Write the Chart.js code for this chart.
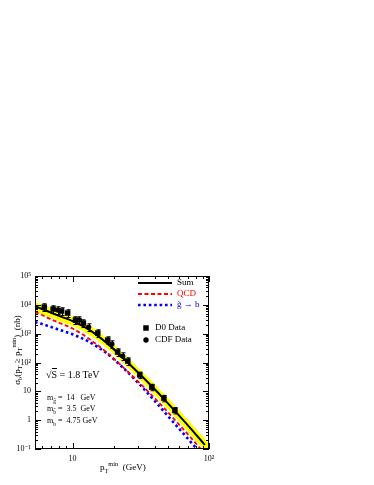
<!DOCTYPE html>
<html>
<head>
<meta charset="utf-8">
<script src="https://cdn.jsdelivr.net/npm/chart.js@4.4.1/dist/chart.umd.min.js"></script>
<style>
  html, body { margin: 0; padding: 0; background: #fff; }
  #wrap { position: relative; width: 374px; height: 485px; font-family: 'Liberation Serif', 'DejaVu Serif', serif; color: #000; }
  #wrap canvas { position: absolute; left: 0; top: 0; }
  .t { position: absolute; white-space: nowrap; line-height: 1; }
  .t sub, .t sup { font-size: 70%; line-height: 0; }
  .ov { border-top: 1px solid #000; }
</style>
</head>
<body>
<div id="wrap">
  <canvas id="c" width="374" height="485"></canvas>

  <!-- legend texts -->
  <div class="t" style="left:177px;top:278px;font-size:9px">Sum</div>
  <div class="t" style="left:177px;top:289px;font-size:9px;color:#ff0000">QCD</div>
  <div class="t" style="left:177px;top:300px;font-size:9px;color:#0000ff">g&#771; &rarr; b</div>
  <div class="t" style="left:155px;top:323px;font-size:9px">D0 Data</div>
  <div class="t" style="left:155px;top:335px;font-size:9px">CDF Data</div>

  <!-- annotations -->
  <div class="t" style="left:46px;top:370px;font-size:10px">&radic;<span class="ov">S</span> = 1.8 TeV</div>
  <div class="t" style="left:47px;top:394px;font-size:8px">m<sub>g&#771;</sub> = &nbsp;14 &nbsp; GeV</div>
  <div class="t" style="left:47px;top:405px;font-size:8px">m<sub>b&#771;</sub> = &nbsp;3.5 &nbsp;GeV</div>
  <div class="t" style="left:47px;top:417px;font-size:8px">m<sub>b</sub> = &nbsp;4.75 GeV</div>

  <!-- axis titles -->
  <div class="t" style="left:17px;top:350px;font-size:9px;transform:translate(-50%,-50%) rotate(-90deg)">&sigma;<sub>b</sub>(p<sub>T</sub> &ge; p<sub>T</sub><sup>min</sup>) &nbsp;(nb)</div>
  <div class="t" style="left:100px;top:463px;font-size:9px">p<sub>T</sub><sup>min</sup> &nbsp;(GeV)</div>
</div>

<script>
'use strict';

// ---- data ----
// theory curves: pT_min (GeV) vs sigma_b (nb)
const sumPt  = [5.3, 5.72, 6.77, 8.02, 10, 13.34, 17.77, 22.1, 31.0, 38.7, 46.6, 56.2, 72.4, 88.7, 93.3];
const sumVal = [8900, 7740, 5620, 4080, 2740, 1333, 479, 186, 39.8, 13.8, 5.5, 2.09, 0.55, 0.182, 0.138];

const bandPt = [5.3, 5.72, 6.77, 8.02, 10, 13.34, 17.77, 22.1, 31.0, 38.7, 46.6, 56.2, 72.4, 88.7, 100];
const bandHi = [12900, 11200, 8150, 5900, 3950, 1930, 695, 270, 58, 20.5, 8.2, 3.2, 0.86, 0.29, 0.155];
const bandLo = [5950, 5150, 3750, 2720, 1830, 890, 320, 124, 26.5, 9.0, 3.5, 1.32, 0.34, 0.112, 0.058];

const qcdPt  = [5.3, 5.72, 6.77, 8.02, 10, 13.34, 17.77, 22.1, 31.0, 38.7, 46.6, 56.2, 72.4, 88.7];
const qcdVal = [5600, 4890, 3310, 2350, 1510, 638, 224, 89, 19.5, 6.76, 2.69, 1.02, 0.27, 0.089];

const glPt   = [5.3, 5.72, 6.77, 8.02, 10, 13.34, 17.77, 22.1, 31.0, 38.7, 46.6, 56.2, 72.4, 83];
const glVal  = [2500, 2290, 1780, 1350, 950, 507, 209, 85, 17.4, 5.5, 2.04, 0.74, 0.19, 0.091];

// data points
const d0Pt   = [6.2, 7.2, 8.3, 9.2, 10.5, 12.0, 15.3, 18.1, 21.4, 25.4, 31.1, 38.1, 46.7, 56.2];
const d0Val  = [8400, 7150, 6100, 5200, 2970, 2330, 1050, 600, 230, 112, 37, 14, 5.8, 2.2];
const d0Err  = [0.3, 0.3, 0.3, 0.3, 0.3, 0.3, 0.3, 0.3, 0.3, 0.3, 0.25, 0.25, 0.25, 0.25];

const cdfPt  = [7.8, 11.2, 13.1, 19.4, 23.3];
const cdfVal = [6600, 2970, 1690, 435, 167];
const cdfErr = [0.3, 0.3, 0.3, 0.3, 0.3];

// axes
const xRange = [5.3, 100];
const yRange = [0.1, 1e5];
const xTicks = [6, 7, 8, 9, 10, 20, 30, 40, 50, 60, 70, 80, 90, 100];
const xMajor = [10, 100];
const xMajorLabels = ['10', '10²'];
const yMajor = [0.1, 1, 10, 100, 1e3, 1e4, 1e5];
const yMajorLabels = ['10⁻¹', '1', '10', '10²', '10³', '10⁴', '10⁵'];
const yMult = [1, 2, 3, 4, 5, 6, 7, 8, 9];

const pts = (xs, ys) => xs.map((x, i) => ({ x, y: ys[i] }));
const isMajor = (v, list) => list.some(m => Math.abs(m - v) / m < 1e-6);

// ticks inside the frame on all four sides (ROOT style)
const framePlugin = {
  id: 'frame',
  afterDatasetsDraw(chart) {
    const { ctx, chartArea: a, scales: { x, y } } = chart;
    ctx.save();
    ctx.strokeStyle = '#000';
    ctx.lineWidth = 1;
    ctx.strokeRect(a.left + 0.5, a.top + 0.5, a.right - a.left - 1, a.bottom - a.top - 1);
    ctx.beginPath();
    x.ticks.forEach(t => {
      const px = Math.round(x.getPixelForValue(t.value)) + 0.5;
      const len = isMajor(t.value, xMajor) ? 6 : 3;
      ctx.moveTo(px, a.bottom); ctx.lineTo(px, a.bottom - len);
      ctx.moveTo(px, a.top);    ctx.lineTo(px, a.top + len);
    });
    y.ticks.forEach(t => {
      const py = Math.round(y.getPixelForValue(t.value)) + 0.5;
      const len = isMajor(t.value, yMajor) ? 6 : 3;
      ctx.moveTo(a.left, py);  ctx.lineTo(a.left + len, py);
      ctx.moveTo(a.right, py); ctx.lineTo(a.right - len, py);
    });
    ctx.stroke();
    ctx.restore();
  }
};

// vertical error bars from each dataset's errFrac list
const errPlugin = {
  id: 'errbars',
  afterDatasetsDraw(chart) {
    const { ctx, scales: { x, y } } = chart;
    ctx.save();
    ctx.strokeStyle = '#000';
    ctx.lineWidth = 1;
    chart.data.datasets.forEach(ds => {
      if (!ds.errFrac) return;
      ds.data.forEach((p, i) => {
        const px = Math.round(x.getPixelForValue(p.x)) + 0.5;
        const hi = y.getPixelForValue(p.y * (1 + ds.errFrac[i]));
        const lo = y.getPixelForValue(p.y * (1 - ds.errFrac[i]));
        ctx.beginPath();
        ctx.moveTo(px, lo); ctx.lineTo(px, hi);
        ctx.moveTo(px - 2, hi); ctx.lineTo(px + 2, hi);
        ctx.moveTo(px - 2, lo); ctx.lineTo(px + 2, lo);
        ctx.stroke();
      });
    });
    ctx.restore();
  }
};

// legend samples (line styles + markers), texts are in the html
const legendPlugin = {
  id: 'legendSamples',
  afterDraw(chart) {
    const ctx = chart.ctx;
    const ds = chart.data.datasets;
    const rows = [[ds[4], 283], [ds[3], 294], [ds[2], 305]];
    ctx.save();
    rows.forEach(([d, yy]) => {
      ctx.beginPath();
      ctx.strokeStyle = d.borderColor;
      ctx.lineWidth = d.borderWidth;
      ctx.setLineDash(d.borderDash || []);
      ctx.moveTo(138, yy); ctx.lineTo(172, yy);
      ctx.stroke();
    });
    ctx.setLineDash([]);
    Chart.helpers.drawPoint(ctx, { pointStyle: ds[5].pointStyle, radius: ds[5].pointRadius, borderWidth: 0 }, 146, 328);
    Chart.helpers.drawPoint(ctx, { pointStyle: ds[6].pointStyle, radius: ds[6].pointRadius, borderWidth: 0 }, 146, 340);
    ctx.restore();
  }
};

const curve = (label, xs, ys, color, width, dash, order) => ({
  label, data: pts(xs, ys), borderColor: color, borderWidth: width, borderDash: dash,
  borderCapStyle: 'butt', pointRadius: 0, fill: false, cubicInterpolationMode: 'monotone', order
});

Chart.defaults.font.family = "'Liberation Serif', 'DejaVu Serif', serif";
Chart.defaults.color = '#000';

new Chart(document.getElementById('c'), {
  type: 'line',
  data: {
    datasets: [
      { label: 'band', data: pts(bandPt, bandHi), borderWidth: 0, pointRadius: 0,
        backgroundColor: '#ffff00', fill: '+1', cubicInterpolationMode: 'monotone', order: 6,
        clip: { left: 0, top: 0, right: 6, bottom: 6 } },
      { label: 'bandLo', data: pts(bandPt, bandLo), borderWidth: 0, pointRadius: 0,
        fill: false, cubicInterpolationMode: 'monotone', order: 5 },
      curve('g̃ → b', glPt, glVal, '#0000ff', 2.6, [2.6, 2.8], 4),
      curve('QCD', qcdPt, qcdVal, '#ff0000', 1.8, [4, 2.5], 3),
      curve('Sum', sumPt, sumVal, '#000000', 2, [], 2),
      { label: 'D0 Data', data: pts(d0Pt, d0Val), errFrac: d0Err, showLine: false,
        pointStyle: 'rect', pointRadius: 3.9, pointBackgroundColor: '#000', pointBorderWidth: 0, order: 1 },
      { label: 'CDF Data', data: pts(cdfPt, cdfVal), errFrac: cdfErr, showLine: false,
        pointStyle: 'circle', pointRadius: 2.7, pointBackgroundColor: '#000', pointBorderWidth: 0, order: 0 }
    ]
  },
  options: {
    responsive: false,
    animation: false,
    devicePixelRatio: 1,
    layout: { padding: { left: 0, right: 165, top: 276, bottom: 0 } },
    plugins: { legend: { display: false }, tooltip: { enabled: false } },
    scales: {
      x: {
        type: 'logarithmic', min: xRange[0], max: xRange[1],
        grid: { display: false, drawTicks: false }, border: { display: false },
        afterFit: s => { s.height = 36; },
        afterBuildTicks: s => { s.ticks = xTicks.map(v => ({ value: v })); },
        ticks: {
          autoSkip: false, maxRotation: 0, padding: 5, font: { size: 8 },
          callback: v => { const i = xMajor.findIndex(m => Math.abs(m - v) / m < 1e-6); return i < 0 ? '' : xMajorLabels[i]; }
        }
      },
      y: {
        type: 'logarithmic', min: yRange[0], max: yRange[1],
        grid: { display: false, drawTicks: false }, border: { display: false },
        afterFit: s => { s.width = 35; },
        afterBuildTicks: s => {
          const t = [];
          yMajor.slice(0, -1).forEach(d => yMult.forEach(m => t.push({ value: d * m })));
          t.push({ value: yMajor[yMajor.length - 1] });
          s.ticks = t;
        },
        ticks: {
          autoSkip: false, padding: 4, font: { size: 8 },
          callback: v => { const i = yMajor.findIndex(m => Math.abs(m - v) / m < 1e-6); return i < 0 ? '' : yMajorLabels[i]; }
        }
      }
    }
  },
  plugins: [errPlugin, framePlugin, legendPlugin]
});
</script>
</body>
</html>
